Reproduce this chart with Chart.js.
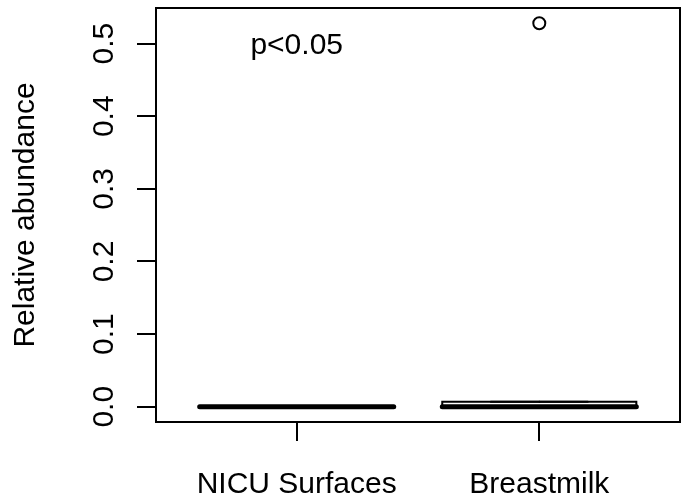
<!DOCTYPE html>
<html>
<head>
<meta charset="utf-8">
<script src="https://cdn.jsdelivr.net/npm/chart.js@4.4.0/dist/chart.umd.min.js"></script>
<style>
    html, body { margin: 0; padding: 0; background: #fff; }
    #wrap { width: 688px; height: 498px; }
</style>
</head>
<body>
<div id="wrap"><canvas id="boxChart" width="688" height="498"></canvas></div>
<script>
// Данные графика
const groups = ['NICU Surfaces', 'Breastmilk'];
const positions = [1, 2];
const lowerWhisker = [0, 0];
const q1 = [0, 0];
const medians = [0, 0];
const q3 = [0, 0.007];
const upperWhisker = [0, 0.007];
const outliers = [[], [0.528]];
const yTicks = [0, 0.1, 0.2, 0.3, 0.4, 0.5];
const xRange = [0.42, 2.58];
const yRange = [-0.021, 0.549];
const yTitle = 'Relative abundance';
const noteText = 'p<0.05';
const notePos = [1, 0.5];
const boxWidth = 0.8;

const FONT_SIZE = 30;
const FONT = FONT_SIZE + 'px "Liberation Sans", Arial, Helvetica, sans-serif';

// Линия из точек (рамка ящика, медиана, усы)
function lineSet(points, width, dash) {
    return {
        type: 'scatter',
        data: points,
        showLine: true,
        borderColor: '#000',
        borderWidth: width,
        borderDash: dash || [],
        borderCapStyle: 'round',
        borderJoinStyle: 'miter',
        pointRadius: 0,
        fill: false,
        tension: 0
    };
}

// Собираем наборы данных для ящиков с усами
function buildDatasets() {
    const sets = [];
    const half = boxWidth / 2;
    positions.forEach((c, i) => {
        // ящик
        sets.push(lineSet([
            { x: c - half, y: q1[i] }, { x: c + half, y: q1[i] },
            { x: c + half, y: q3[i] }, { x: c - half, y: q3[i] },
            { x: c - half, y: q1[i] }
        ], 2));
        // усы
        sets.push(lineSet([{ x: c, y: q3[i] }, { x: c, y: upperWhisker[i] }], 2, [6, 6]));
        sets.push(lineSet([{ x: c, y: q1[i] }, { x: c, y: lowerWhisker[i] }], 2, [6, 6]));
        sets.push(lineSet([{ x: c - half / 2, y: upperWhisker[i] }, { x: c + half / 2, y: upperWhisker[i] }], 2));
        sets.push(lineSet([{ x: c - half / 2, y: lowerWhisker[i] }, { x: c + half / 2, y: lowerWhisker[i] }], 2));
        // медиана
        sets.push(lineSet([{ x: c - half, y: medians[i] }, { x: c + half, y: medians[i] }], 5));
    });
    // выбросы
    sets.push({
        type: 'scatter',
        data: outliers.flatMap((vals, i) => vals.map(v => ({ x: positions[i], y: v }))),
        showLine: false,
        pointStyle: 'circle',
        pointRadius: 6,
        pointBorderWidth: 2,
        pointBorderColor: '#000',
        pointBackgroundColor: 'rgba(0,0,0,0)'
    });
    return sets;
}

// Рамка и подписи в стиле R
const rLabels = {
    id: 'rLabels',
    afterDraw(chart) {
        const { ctx, chartArea, scales } = chart;
        const x = scales.x, y = scales.y;
        ctx.save();
        ctx.strokeStyle = '#000';
        ctx.lineWidth = 2;
        ctx.strokeRect(chartArea.left, chartArea.top, chartArea.right - chartArea.left, chartArea.bottom - chartArea.top);

        ctx.font = FONT;
        ctx.fillStyle = '#000';
        ctx.textAlign = 'center';
        ctx.textBaseline = 'alphabetic';

        // подписи групп
        positions.forEach((p, i) => {
            ctx.fillText(groups[i], x.getPixelForValue(p), chartArea.bottom + 71);
        });

        // подписи делений оси Y
        yTicks.forEach(v => {
            ctx.save();
            ctx.translate(chartArea.left - 43, y.getPixelForValue(v));
            ctx.rotate(-Math.PI / 2);
            ctx.fillText(v.toFixed(1), 0, 0);
            ctx.restore();
        });

        // название оси Y
        ctx.save();
        ctx.translate(34, (chartArea.top + chartArea.bottom) / 2);
        ctx.rotate(-Math.PI / 2);
        ctx.fillText(yTitle, 0, 0);
        ctx.restore();

        // p-значение
        ctx.fillText(noteText, x.getPixelForValue(notePos[0]), y.getPixelForValue(notePos[1]) + FONT_SIZE * 0.358);
        ctx.restore();
    }
};

const axisStyle = {
    ticks: { display: false },
    grid: { drawOnChartArea: false, drawTicks: true, tickLength: 19, color: '#000', lineWidth: 2 },
    border: { display: true, color: '#000', width: 2 }
};

new Chart(document.getElementById('boxChart').getContext('2d'), {
    type: 'scatter',
    data: { datasets: buildDatasets() },
    options: {
        responsive: false,
        animation: false,
        layout: { padding: { top: 6, right: 2, left: 0, bottom: 0 } },
        plugins: {
            legend: { display: false },
            tooltip: { enabled: false }
        },
        scales: {
            x: Object.assign({
                type: 'linear',
                min: xRange[0],
                max: xRange[1],
                afterBuildTicks: s => { s.ticks = positions.map(v => ({ value: v })); },
                afterFit: s => { s.height = 76; }
            }, axisStyle),
            y: Object.assign({
                type: 'linear',
                min: yRange[0],
                max: yRange[1],
                afterBuildTicks: s => { s.ticks = yTicks.map(v => ({ value: v })); },
                afterFit: s => { s.width = 156; }
            }, axisStyle)
        }
    },
    plugins: [rLabels]
});
</script>
</body>
</html>
